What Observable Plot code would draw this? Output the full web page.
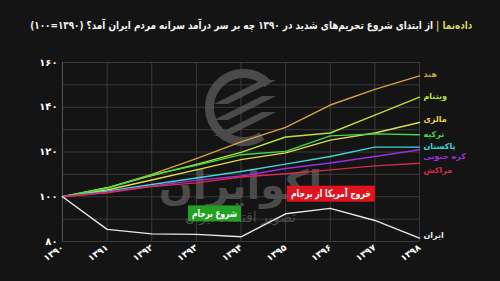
<!DOCTYPE html>
<html>
<head>
<meta charset="utf-8">
<script src="https://cdn.jsdelivr.net/npm/d3@7"></script>
<script src="https://cdn.jsdelivr.net/npm/@observablehq/plot@0.6"></script>
<style>
  html, body { margin: 0; padding: 0; background: #141414; }
  #wrap { position: relative; width: 500px; height: 281px; overflow: hidden; background: #141414; }
  #title { position: absolute; top: 19px; right: 28px; direction: rtl; white-space: nowrap;
    font-family: "DejaVu Sans", sans-serif; font-weight: bold; font-size: 11px; color: #f2f2f2;
    transform-origin: right center; }
  #title .brand { color: #d9d35a; }
  #chart { position: absolute; left: 0; top: 0; }
</style>
</head>
<body>
<div id="wrap">
  <div id="chart"></div>
  <div id="title"><span class="brand">داده‌نما |</span> از ابتدای شروع تحریم‌های شدید در ۱۳۹۰ چه بر سر درآمد سرانه مردم ایران آمد؟ (۱۳۹۰=۱۰۰)</div>
</div>
<script>
const years = [1390, 1391, 1392, 1393, 1394, 1395, 1396, 1397, 1398];
const yearLabels = ["۱۳۹۰", "۱۳۹۱", "۱۳۹۲", "۱۳۹۳", "۱۳۹۴", "۱۳۹۵", "۱۳۹۶", "۱۳۹۷", "۱۳۹۸"];
const yTicks = [80, 100, 120, 140, 160];
const yTickLabels = ["۸۰", "۱۰۰", "۱۲۰", "۱۴۰", "۱۶۰"];

const countries = ["هند", "ویتنام", "مالزی", "ترکیه", "پاکستان", "کره جنوبی", "مراکش", "ایران"];
const colors = ["#d4a240", "#b9e23a", "#e6d84c", "#3fdc48", "#3fd6d6", "#9b2fe0", "#d42a4e", "#e8e8e8"];

const india    = [100, 104, 110, 117, 124.5, 131, 141, 148, 154];
const vietnam  = [100, 104, 109.5, 114.5, 119.8, 126.7, 128.5, 136.5, 144.5];
const malaysia = [100, 103, 107.5, 112, 116.6, 119.6, 125.3, 128.5, 133.2];
const turkey   = [100, 103.8, 109.8, 114, 118.8, 120.3, 127.2, 128.1, 127.7];
const pakistan = [100, 102.5, 105.5, 108.4, 111.3, 114.6, 118, 122.2, 122.2];
const korea    = [100, 102, 104.8, 107.3, 109.3, 112.6, 115.1, 118, 121];
const morocco  = [100, 101.8, 104.6, 106.2, 108.8, 110.3, 112, 113.8, 115];
const iran     = [100, 85.4, 83.4, 83.2, 82.1, 92.4, 94.8, 89.4, 81.5];
const seriesValues = [india, vietnam, malaysia, turkey, pakistan, korea, morocco, iran];
const labelValues = [154.6, 145, 134.4, 128, 122.3, 117.8, 111.8, 82.6];

const annotations = [
  {year: 1394, value: 92.5, text: "شروع برجام", color: "#22a022", width: 45},
  {year: 1397, value: 101.3, text: "خروج آمریکا از برجام", color: "#e0141e", width: 80}
];

const rows = [];
countries.forEach((c, i) => years.forEach((y, j) => rows.push({year: y, value: seriesValues[i][j], country: c})));
const labels = countries.map((c, i) => ({year: 1398, value: labelValues[i], country: c}));

const font = "DejaVu Sans, sans-serif";
const wm = "#5c5c5c";

const marks = [
  Plot.gridY(d3.range(80, 161, 10), {stroke: "#3a3a3a", strokeOpacity: 1, strokeWidth: 1}),
  Plot.gridX(years, {stroke: "#3a3a3a", strokeOpacity: 1, strokeWidth: 1}),
  Plot.ruleX([1390], {stroke: "#555555"}),
  Plot.text(["اکوایران"], {frameAnchor: "top-left", dx: 178, dy: 108, text: d => d, fill: wm, fillOpacity: 0.75, fontSize: 40, fontWeight: "bold", textAnchor: "middle", fontFamily: font}),
  Plot.text(["تصویر اقتصاد ایران"], {frameAnchor: "top-left", dx: 178, dy: 150, text: d => d, fill: wm, fillOpacity: 0.75, fontSize: 14, textAnchor: "middle", fontFamily: font}),
  Plot.lineY(rows, {x: "year", y: "value", z: "country", stroke: "country", strokeWidth: 1.4, curve: "linear"}),
  Plot.text(labels, {x: "year", y: "value", text: "country", fill: "country", textAnchor: "start", dx: 4, fontSize: 8, fontWeight: "bold", fontFamily: font}),
  Plot.axisX(years, {tickFormat: d => yearLabels[years.indexOf(d)], tickSize: 0, tickRotate: -35, tickPadding: 5, fill: "#ffffff", fontSize: 9, fontWeight: "bold", fontFamily: font, label: null}),
  Plot.axisY(yTicks, {tickFormat: d => yTickLabels[yTicks.indexOf(d)], tickSize: 0, tickPadding: 5, fill: "#ffffff", fontSize: 10, fontWeight: "bold", fontFamily: font, label: null}),
  Plot.text(annotations, {x: "year", y: "value", text: "text", fill: "#ffffff", textAnchor: "end", dx: -4, fontSize: 10.5, fontWeight: "bold", fontFamily: font})
];

const chart = Plot.plot({
  width: 500, height: 281,
  marginLeft: 62, marginRight: 81, marginTop: 62, marginBottom: 40,
  style: {background: "transparent", color: "#ffffff", fontFamily: font},
  x: {domain: [1390, 1398], type: "linear"},
  y: {domain: [80, 160]},
  color: {domain: countries, range: colors},
  marks
});
document.getElementById("chart").appendChild(chart);

// watermark logo (decoration)
const NS = "http://www.w3.org/2000/svg";
const logo = document.createElementNS(NS, "g");
logo.setAttribute("fill", wm);
logo.setAttribute("opacity", "0.75");
const arc = document.createElementNS(NS, "path");
arc.setAttribute("d", "M268,84 A34,34 0 1 0 262,136");
arc.setAttribute("fill", "none");
arc.setAttribute("stroke", wm);
arc.setAttribute("stroke-width", "9");
logo.appendChild(arc);
[0, 16, 32].forEach(o => {
  const p = document.createElementNS(NS, "path");
  p.setAttribute("d", `M214,${104 + o} L262,${80 + o} L276,${80 + o} L228,${104 + o} Z`);
  logo.appendChild(p);
});
const firstLine = chart.querySelector('g[aria-label="line"]');
if (firstLine) chart.insertBefore(logo, firstLine); else chart.appendChild(logo);

// boxes behind annotation texts, text condensed to the reference width
chart.querySelectorAll("text").forEach(t => {
  const a = annotations.find(a => a.text === t.textContent);
  if (!a) return;
  t.setAttribute("textLength", a.width);
  t.setAttribute("lengthAdjust", "spacingAndGlyphs");
  const b = t.getBBox();
  const r = document.createElementNS(NS, "rect");
  r.setAttribute("x", b.x - 4);
  r.setAttribute("y", b.y - 1.5);
  r.setAttribute("width", b.width + 8);
  r.setAttribute("height", b.height + 3);
  r.setAttribute("fill", a.color);
  const tr = t.getAttribute("transform");
  if (tr) r.setAttribute("transform", tr);
  t.parentNode.insertBefore(r, t);
});

// fit title to reference width
const title = document.getElementById("title");
const w = title.getBoundingClientRect().width;
title.style.transform = `scaleX(${442 / w})`;
</script>
</body>
</html>
